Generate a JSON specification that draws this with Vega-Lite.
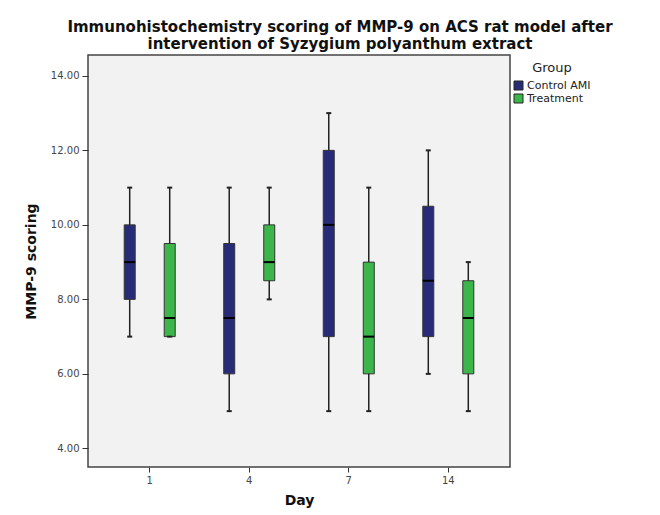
{
  "$schema": "https://vega.github.io/schema/vega-lite/v6.json",
  "autosize": {"type": "none"},
  "width": 422,
  "height": 412,
  "padding": {"left": 88, "top": 55, "right": 150, "bottom": 48},
  "background": "white",
  "config": {
    "font": "DejaVu Sans",
    "view": {"fill": "#f2f2f2", "stroke": "#444444", "strokeWidth": 1.5},
    "axis": {"grid": false, "domain": false, "tickColor": "#333333", "labelColor": "#444444", "labelFont": "DejaVu Sans", "titleFont": "DejaVu Sans", "titleColor": "#111111"}
  },
  "title": {
    "text": ["Immunohistochemistry scoring of MMP-9 on ACS rat model after", "intervention of Syzygium polyanthum extract"],
    "fontSize": 15,
    "fontWeight": "bold",
    "font": "DejaVu Sans",
    "color": "#111111",
    "anchor": "middle",
    "dx": 41,
    "offset": 3,
    "lineHeight": 17
  },
  "data": {
    "values": [
      {"day": "1", "group": "Control AMI", "min": 7, "q1": 8, "median": 9, "q3": 10, "max": 11},
      {"day": "1", "group": "Treatment", "min": 7, "q1": 7, "median": 7.5, "q3": 9.5, "max": 11},
      {"day": "4", "group": "Control AMI", "min": 5, "q1": 6, "median": 7.5, "q3": 9.5, "max": 11},
      {"day": "4", "group": "Treatment", "min": 8, "q1": 8.5, "median": 9, "q3": 10, "max": 11},
      {"day": "7", "group": "Control AMI", "min": 5, "q1": 7, "median": 10, "q3": 12, "max": 13},
      {"day": "7", "group": "Treatment", "min": 5, "q1": 6, "median": 7, "q3": 9, "max": 11},
      {"day": "14", "group": "Control AMI", "min": 6, "q1": 7, "median": 8.5, "q3": 10.5, "max": 12},
      {"day": "14", "group": "Treatment", "min": 5, "q1": 6, "median": 7.5, "q3": 8.5, "max": 9}
    ]
  },
  "encoding": {
    "x": {
      "field": "day", "type": "ordinal", "sort": ["1", "4", "7", "14"],
      "scale": {"type": "band", "paddingInner": 0, "paddingOuter": 0.12},
      "axis": {"title": "Day", "labelAngle": 0, "labelFontSize": 10, "tickSize": 5, "labelPadding": 3, "titleFontSize": 14, "titleFontWeight": "bold", "titlePadding": 8}
    },
    "xOffset": {"field": "group", "type": "nominal", "scale": {"paddingInner": 0, "paddingOuter": 0.244}}
  },
  "layer": [
    {
      "mark": {"type": "rule", "color": "#222222", "strokeWidth": 1.5},
      "encoding": {
        "y": {
          "field": "min", "type": "quantitative",
          "scale": {"domain": [3.5, 14.56], "nice": false, "zero": false},
          "axis": {"title": "MMP-9 scoring", "values": [4, 6, 8, 10, 12, 14], "format": ".2f", "labelFontSize": 10, "tickSize": 6, "labelPadding": 3, "titleFontSize": 14, "titleFontWeight": "bold", "titlePadding": 12}
        },
        "y2": {"field": "max"}
      }
    },
    {
      "mark": {"type": "bar", "width": 11, "stroke": "#333333", "strokeWidth": 1},
      "encoding": {
        "y": {"field": "q1", "type": "quantitative"},
        "y2": {"field": "q3"},
        "color": {
          "field": "group", "type": "nominal",
          "scale": {"domain": ["Control AMI", "Treatment"], "range": ["#282c78", "#3cb64b"]},
          "legend": {"title": "Group", "orient": "none", "legendX": 425, "legendY": 7, "titleFontSize": 13, "titleFontWeight": "normal", "titleColor": "#222222", "titleAnchor": "middle", "titlePadding": 5, "labelFontSize": 11, "labelColor": "#222222", "symbolType": "square", "symbolSize": 81, "symbolStrokeColor": "#222222", "symbolStrokeWidth": 1, "symbolOpacity": 1, "rowPadding": 0, "labelOffset": 3}
        }
      }
    },
    {
      "mark": {"type": "tick", "color": "#000000", "size": 11, "thickness": 2, "opacity": 1},
      "encoding": {"y": {"field": "median", "type": "quantitative"}}
    },
    {
      "mark": {"type": "tick", "color": "#222222", "size": 5, "thickness": 2, "opacity": 1},
      "encoding": {"y": {"field": "min", "type": "quantitative"}}
    },
    {
      "mark": {"type": "tick", "color": "#222222", "size": 5, "thickness": 2, "opacity": 1},
      "encoding": {"y": {"field": "max", "type": "quantitative"}}
    }
  ]
}
